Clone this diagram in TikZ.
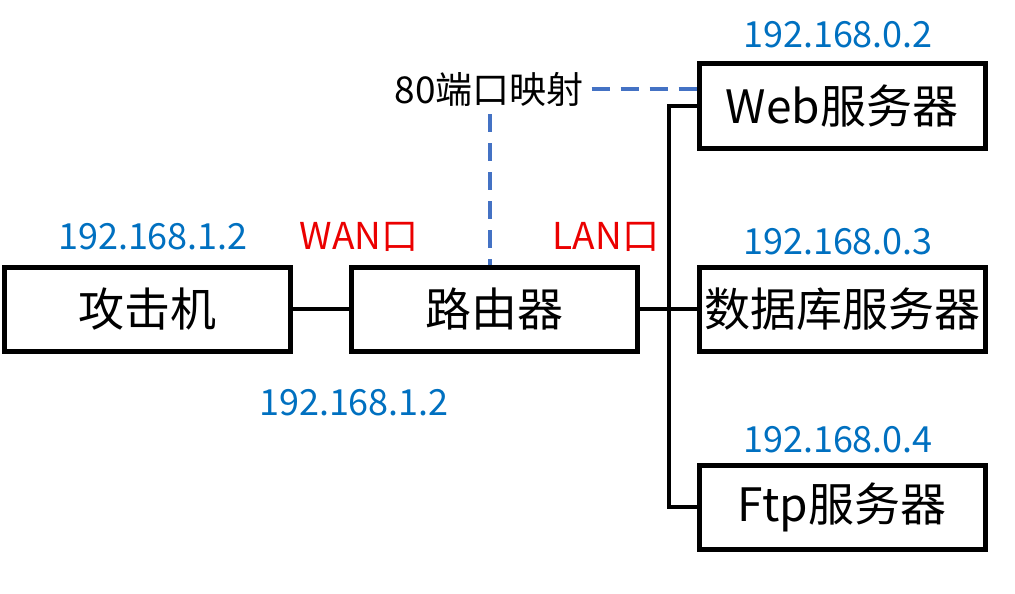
\documentclass[tikz,border=0pt]{standalone}
\usepackage{fontspec}
\setmainfont{Noto Sans CJK SC}
\usepackage{tikz}
\definecolor{ipblue}{RGB}{0,112,192}
\definecolor{portred}{RGB}{235,0,0}
\definecolor{mapblue}{RGB}{68,114,196}
\tikzstyle{host} = [draw, line width=5pt, minimum width=286pt, minimum height=84pt, inner sep=0pt, font=\fontsize{46}{50}\selectfont]
\tikzstyle{ip} = [text=ipblue, inner sep=0pt, font=\fontsize{36}{40}\selectfont]
\tikzstyle{port} = [text=portred, inner sep=0pt, font=\fontsize{37}{40}\selectfont]
\tikzstyle{link} = [line width=4pt]
\tikzstyle{maplink} = [line width=3.5pt, mapblue, dash pattern=on 18pt off 11pt]

\begin{document}
\begin{tikzpicture}[x=1pt, y=-1pt]
			\useasboundingbox (0,0) rectangle (1015,594);
			\node[host] (atk) at (147,309) {攻击机};
			\node[host] (rtr) at (494,309) {路由器};
			\node[host] (web) at (842,106) {Web服务器};
			\node[host] (db) at (842,309) {数据库服务器};
			\node[host] (ftp) at (842,507) {Ftp服务器};
			\coordinate (bus) at (669,309);
			\node[ip] (ipatk) at (153,237) {192.168.1.2};
			\node[ip] (ipwan) at (354,403) {192.168.1.2};
			\node[ip] (ipweb) at (838,35) {192.168.0.2};
			\node[ip] (ipdb) at (838,242) {192.168.0.3};
			\node[ip] (ipftp) at (838,440) {192.168.0.4};
			\node[port] (wan) at (359,237) {WAN口};
			\node[port] (lan) at (606,237) {LAN口};
			\node[inner sep=8pt, font=\fontsize{37}{40}\selectfont] (map) at (489,89) {80端口映射};
			\draw[link] (atk) -- (rtr);
			\draw[link] (rtr) -- (db);
			\draw[link] (web.west) -| (bus) |- (ftp.west);
			\draw[maplink] (map.east) -- (map.east -| web.west);
			\draw[maplink] (map.south -| 490,0) -- (490,265);
		\end{tikzpicture}
\end{document}
